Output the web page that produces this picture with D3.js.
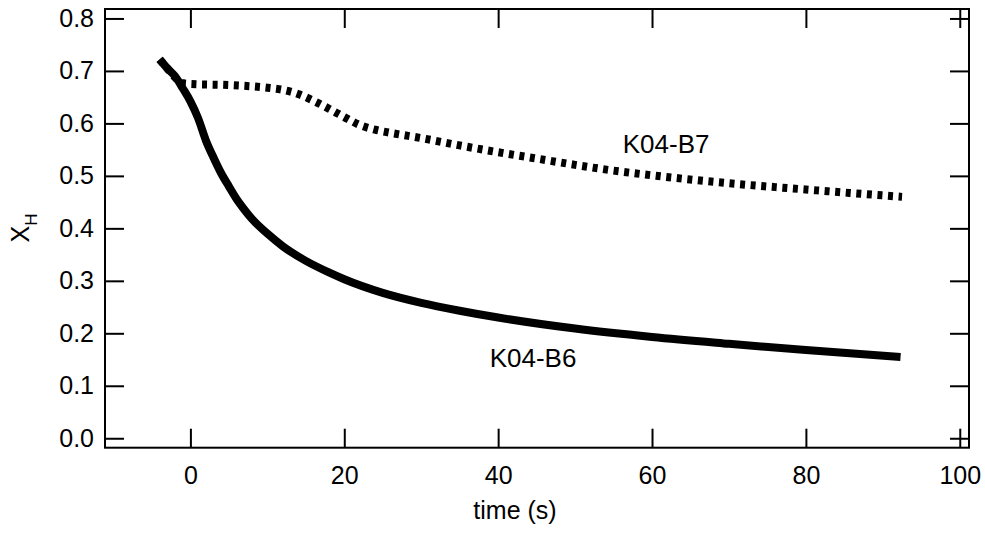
<!DOCTYPE html>
<html><head><meta charset="utf-8">
<script src="https://cdn.jsdelivr.net/npm/d3@7"></script>
<style>
body{margin:0;background:#fff;}
svg{display:block;font-family:"Liberation Sans",Arial,sans-serif;}
</style></head>
<body>
<svg id="chart" width="985" height="533"></svg>
<script>
// Data
const b6Time = [-4, -3, -2, -1, 0, 1, 2, 3, 4, 5, 6, 7, 8, 10, 12, 15, 18, 20, 25, 30, 35, 40, 50, 60, 70, 80, 92.3];
const b6XH   = [0.722, 0.705, 0.69, 0.667, 0.642, 0.61, 0.568, 0.535, 0.505, 0.48, 0.456, 0.436, 0.418, 0.39, 0.366, 0.338, 0.316, 0.303, 0.277, 0.258, 0.243, 0.23, 0.209, 0.193, 0.18, 0.168, 0.155];
const b7Time = [-4, -3, -2, -1.2, 0, 5, 10, 12, 14, 16, 18, 20, 22, 24, 26, 30, 35, 40, 45, 50, 55, 60, 70, 80, 92.5];
const b7XH   = [0.722, 0.705, 0.688, 0.677, 0.675, 0.673, 0.668, 0.664, 0.656, 0.643, 0.628, 0.612, 0.597, 0.588, 0.582, 0.572, 0.558, 0.545, 0.533, 0.521, 0.51, 0.501, 0.486, 0.474, 0.46];
const xTicks = [0, 20, 40, 60, 80, 100];
const yTicks = [0.0, 0.1, 0.2, 0.3, 0.4, 0.5, 0.6, 0.7, 0.8];
const seriesLabels = [
  {name: "K04-B6", t: 38.9, v: 0.136},
  {name: "K04-B7", t: 56.2, v: 0.543}
];

const svg = d3.select("#chart");
const L = 105, R = 969, T = 9, B = 447.7;
const x = d3.scaleLinear().domain([-11.1, 101.2]).range([L, R]);
const y = d3.scaleLinear().domain([-0.018, 0.818]).range([B, T]);
const FS = 25;

// axes
const ax = svg.append("g").attr("font-size", FS);
const tickLen = 19;
const gl = ax.append("g").attr("transform", `translate(${L},0)`)
  .call(d3.axisLeft(y).tickValues(yTicks).tickFormat(d3.format(".1f")).tickSizeInner(-tickLen).tickSizeOuter(0).tickPadding(11));
const gb = ax.append("g").attr("transform", `translate(0,${B})`)
  .call(d3.axisBottom(x).tickValues(xTicks).tickFormat(d3.format("d")).tickSizeInner(-tickLen).tickSizeOuter(0).tickPadding(19));
const gr = ax.append("g").attr("transform", `translate(${R},0)`)
  .call(d3.axisRight(y).tickValues(yTicks).tickFormat("").tickSizeInner(-tickLen).tickSizeOuter(0));
const gt = ax.append("g").attr("transform", `translate(0,${T})`)
  .call(d3.axisTop(x).tickValues(xTicks).tickFormat("").tickSizeInner(-tickLen).tickSizeOuter(0));
[gl, gb, gr, gt].forEach(g => {
  g.selectAll(".domain").remove();
  g.selectAll(".tick line").attr("stroke", "#000").attr("stroke-width", 2);
  g.selectAll(".tick text").attr("fill", "#000").attr("font-size", FS).attr("font-family", "Liberation Sans, Arial, sans-serif");
});

// frame
svg.append("rect").attr("x", L).attr("y", T).attr("width", R - L).attr("height", B - T)
  .attr("fill", "none").attr("stroke", "#000").attr("stroke-width", 2);

// lines
const line = d3.line().x(d => x(d[0])).y(d => y(d[1])).curve(d3.curveMonotoneX);
svg.append("path").datum(b7Time.map((t, i) => [t, b7XH[i]]))
  .attr("d", line).attr("fill", "none").attr("stroke", "#000")
  .attr("stroke-width", 8).attr("stroke-dasharray", "5,5.6");
svg.append("path").datum(b6Time.map((t, i) => [t, b6XH[i]]))
  .attr("d", line).attr("fill", "none").attr("stroke", "#000")
  .attr("stroke-width", 8);

// series labels
svg.selectAll(".slab").data(seriesLabels).enter().append("text")
  .attr("x", d => x(d.t)).attr("y", d => y(d.v))
  .attr("font-size", 26).attr("fill", "#000").text(d => d.name);

// axis titles
svg.append("text").attr("x", 515).attr("y", 519).attr("text-anchor", "middle")
  .attr("font-size", FS).text("time (s)");
const yl = svg.append("text").attr("transform", "translate(29,228) rotate(-90)")
  .attr("text-anchor", "middle").attr("font-size", FS);
yl.append("tspan").text("X");
yl.append("tspan").attr("font-size", 17).attr("dy", 8).text("H");
</script>
</body></html>
